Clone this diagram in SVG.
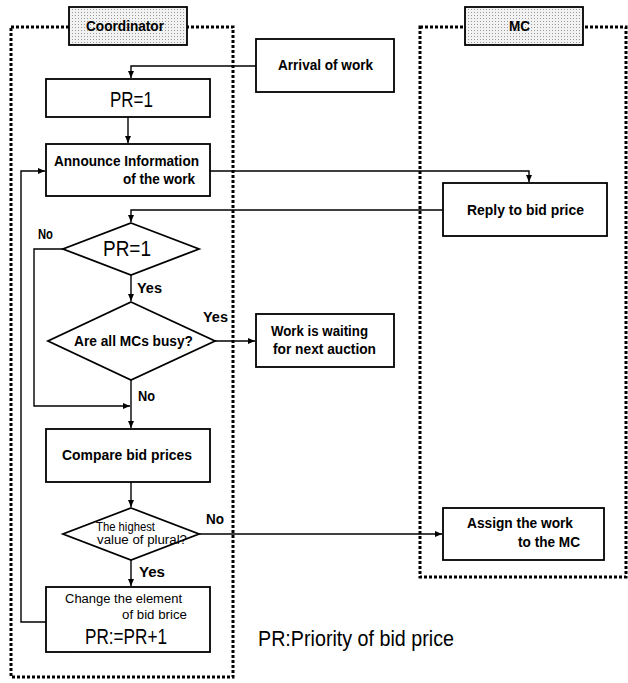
<svg xmlns="http://www.w3.org/2000/svg" width="628" height="683" viewBox="0 0 628 683">
<style>
.box{fill:#fff;stroke:#000;stroke-width:1.8}
.lane{fill:none;stroke:#000;stroke-width:3;stroke-dasharray:3 2}
.hdr{stroke:#000;stroke-width:1.8;fill:url(#dots)}
.cn{fill:none;stroke:#000;stroke-width:1.4}
.b{font-family:"Liberation Sans",Arial,sans-serif;font-weight:bold;font-size:14.5px;fill:#000}
.r{font-family:"Liberation Sans",Arial,sans-serif;font-size:12.5px;fill:#000}
.big{font-family:"Liberation Sans",Arial,sans-serif;font-size:22px;fill:#000}
</style>
<defs>
<pattern id="dots" width="3" height="3" patternUnits="userSpaceOnUse">
<rect width="3" height="3" fill="#f2f2f2"/>
<rect width="1" height="1" fill="#9a9a9a"/>
</pattern>
<marker id="ah" markerWidth="7" markerHeight="6" refX="7" refY="3" orient="auto" markerUnits="userSpaceOnUse">
<path d="M0,0 L7,3 L0,6 Z" fill="#000"/>
</marker>
</defs>

<g id="lane-coordinator">
<rect class="lane" x="11" y="27" width="222" height="650"/>
<rect class="hdr" x="69" y="7" width="118" height="38"/>
<text class="b" x="86" y="31" textLength="78" lengthAdjust="spacingAndGlyphs">Coordinator</text>
</g>
<g id="lane-mc">
<rect class="lane" x="420" y="27" width="206" height="550"/>
<rect class="hdr" x="465" y="7" width="118" height="38"/>
<text class="b" x="509" y="31" textLength="21" lengthAdjust="spacingAndGlyphs">MC</text>
</g>

<g id="connectors">
<path class="cn" d="M256,66 H131 V78" marker-end="url(#ah)"/>
<path class="cn" d="M128,117 V143" marker-end="url(#ah)"/>
<path class="cn" d="M210,171 H529 V182" marker-end="url(#ah)"/>
<path class="cn" d="M443,210 H131 V222" marker-end="url(#ah)"/>
<path class="cn" d="M131,275 V301" marker-end="url(#ah)"/>
<path class="cn" d="M63,249 H34 V406 H130" marker-end="url(#ah)"/>
<path class="cn" d="M215,341 H255" marker-end="url(#ah)"/>
<path class="cn" d="M131,380 V428" marker-end="url(#ah)"/>
<path class="cn" d="M131,482 V507" marker-end="url(#ah)"/>
<path class="cn" d="M199,534 H442" marker-end="url(#ah)"/>
<path class="cn" d="M131,560 V586" marker-end="url(#ah)"/>
<path class="cn" d="M46,622 H21 V171 H45" marker-end="url(#ah)"/>
</g>

<g id="arrival">
<rect class="box" x="256" y="39" width="138" height="53"/>
<text class="b" x="278" y="70" textLength="95" lengthAdjust="spacingAndGlyphs">Arrival of work</text>
</g>
<g id="pr1">
<rect class="box" x="46" y="79" width="164" height="38"/>
<text class="big" x="110" y="107" font-size="23" textLength="43" lengthAdjust="spacingAndGlyphs">PR=1</text>
</g>
<g id="announce">
<rect class="box" x="46" y="144" width="164" height="52"/>
<text class="b" x="54" y="166" textLength="145" lengthAdjust="spacingAndGlyphs">Announce Information</text>
<text class="b" x="123" y="184" textLength="72" lengthAdjust="spacingAndGlyphs">of the work</text>
</g>
<g id="reply">
<rect class="box" x="443" y="183" width="164" height="53"/>
<text class="b" x="467" y="215" textLength="117" lengthAdjust="spacingAndGlyphs">Reply to bid price</text>
</g>
<g id="dec-pr1">
<polygon class="box" points="131,223 199,249 131,275 63,249"/>
<text class="big" x="103" y="256" font-size="20" textLength="48" lengthAdjust="spacingAndGlyphs">PR=1</text>
</g>
<g id="dec-busy">
<polygon class="box" points="131,302 215,341 131,380 48,341"/>
<text class="b" x="74" y="346" textLength="119" lengthAdjust="spacingAndGlyphs">Are all MCs busy?</text>
</g>
<g id="waiting">
<rect class="box" x="256" y="314" width="138" height="53"/>
<text class="b" x="271" y="336" textLength="97" lengthAdjust="spacingAndGlyphs">Work is waiting</text>
<text class="b" x="273" y="354" textLength="103" lengthAdjust="spacingAndGlyphs">for next auction</text>
</g>
<g id="compare">
<rect class="box" x="46" y="429" width="164" height="53"/>
<text class="b" x="62" y="460" textLength="130" lengthAdjust="spacingAndGlyphs">Compare bid prices</text>
</g>
<g id="dec-highest">
<polygon class="box" points="131,508 199,534 131,560 63,534"/>
<text class="r" x="96" y="531" font-size="10" textLength="59" lengthAdjust="spacingAndGlyphs">The highest</text>
<text class="r" x="97" y="544" font-size="10" textLength="90" lengthAdjust="spacingAndGlyphs">value of plural?</text>
</g>
<g id="assign">
<rect class="box" x="443" y="508" width="161" height="52"/>
<text class="b" x="467" y="528" textLength="106" lengthAdjust="spacingAndGlyphs">Assign the work</text>
<text class="b" x="518" y="547" textLength="62" lengthAdjust="spacingAndGlyphs">to the MC</text>
</g>
<g id="change">
<rect class="box" x="46" y="587" width="164" height="65"/>
<text class="r" x="65" y="603" textLength="117" lengthAdjust="spacingAndGlyphs">Change the element</text>
<text class="r" x="122" y="619" textLength="65" lengthAdjust="spacingAndGlyphs">of bid brice</text>
<text class="big" x="85" y="644" font-size="20" textLength="82" lengthAdjust="spacingAndGlyphs">PR:=PR+1</text>
</g>

<g id="labels">
<text class="b" x="38" y="239" textLength="15" lengthAdjust="spacingAndGlyphs">No</text>
<text class="b" x="137" y="293" textLength="25" lengthAdjust="spacingAndGlyphs">Yes</text>
<text class="b" x="203" y="322" textLength="25" lengthAdjust="spacingAndGlyphs">Yes</text>
<text class="b" x="138" y="401" textLength="17" lengthAdjust="spacingAndGlyphs">No</text>
<text class="b" x="206" y="524" textLength="18" lengthAdjust="spacingAndGlyphs">No</text>
<text class="b" x="139" y="577" textLength="26" lengthAdjust="spacingAndGlyphs">Yes</text>
<text class="big" x="258" y="646" font-size="18" textLength="196" lengthAdjust="spacingAndGlyphs">PR:Priority of bid price</text>
</g>
</svg>
